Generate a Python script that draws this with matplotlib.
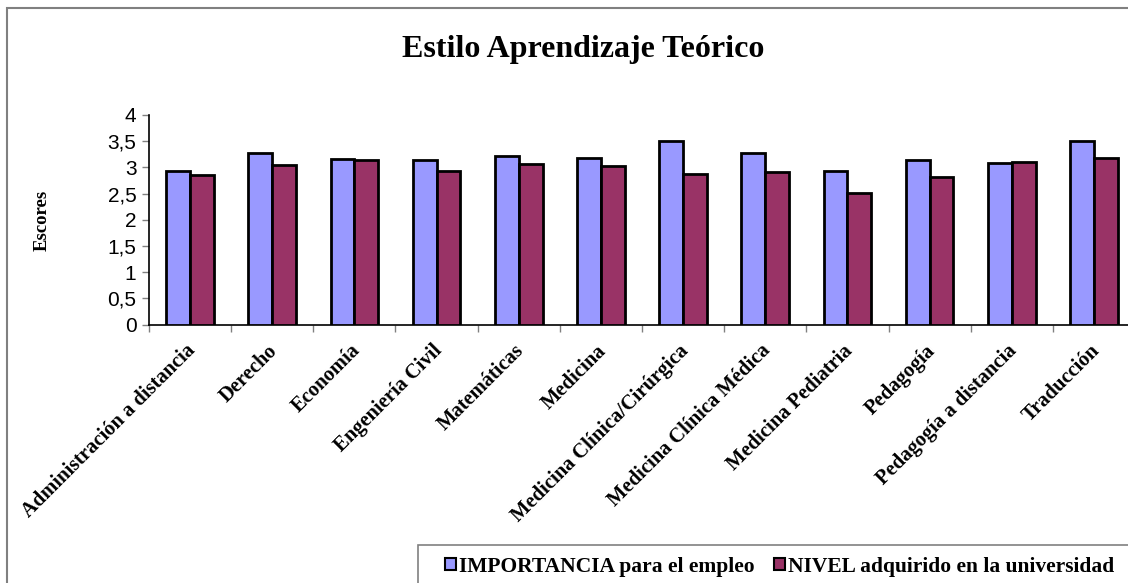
import matplotlib
matplotlib.use('Agg')
import matplotlib.pyplot as plt
import numpy as np
from matplotlib.patches import Rectangle
from matplotlib.ticker import FuncFormatter, FixedLocator

# Chart data
categories = ['Administración a distancia', 'Derecho', 'Economía', 'Engeniería Civil',
              'Matemáticas', 'Medicina', 'Medicina Clínica/Cirúrgica', 'Medicina Clínica Médica',
              'Medicina Pediatria', 'Pedagogía', 'Pedagogía a distancia', 'Traducción']
importancia = [2.94, 3.28, 3.17, 3.14, 3.22, 3.18, 3.51, 3.28, 2.93, 3.15, 3.09, 3.50]
nivel = [2.86, 3.05, 3.14, 2.93, 3.06, 3.02, 2.87, 2.91, 2.51, 2.82, 3.10, 3.18]
series_names = ['IMPORTANCIA para el empleo', 'NIVEL adquirido en la universidad']
series_colors = ['#9999FF', '#993366']

W, H = 1128, 583
fig = plt.figure(figsize=(W / 100, H / 100), dpi=100)
fig.patch.set_facecolor('white')

# outer chart border (partly cut off on right and bottom, as in the original)
fig.patches.append(Rectangle((7 / W, -0.1), 1.2, 1 - 8 / H + 0.1, transform=fig.transFigure,
                             fill=False, edgecolor='#808080', linewidth=1.5))

ax = fig.add_axes([149 / W, 1 - 324.7 / H, 986 / W, (324.7 - 115) / H])
x = np.arange(len(categories))
bw = 0.29
ax.bar(x - bw / 2, importancia, bw, color=series_colors[0], edgecolor='black', linewidth=2,
       label=series_names[0], zorder=3)
ax.bar(x + bw / 2, nivel, bw, color=series_colors[1], edgecolor='black', linewidth=2,
       label=series_names[1], zorder=3)

ax.set_xlim(-0.5, len(categories) - 0.5)
ax.set_ylim(0, 4)
ax.set_yticks(np.arange(0, 4.01, 0.5))
ax.yaxis.set_major_formatter(FuncFormatter(lambda v, p: f'{v:g}'.replace('.', ',')))
ax.tick_params(axis='y', direction='out', length=5, color='#808080', width=1,
               labelsize=15, pad=4)
for lab in ax.get_yticklabels():
    lab.set_fontfamily('Liberation Sans')

# gray ticks between categories, labels at the category centres
ax.xaxis.set_major_locator(FixedLocator(np.arange(len(categories) + 1) - 0.5))
ax.xaxis.set_major_formatter(FuncFormatter(lambda v, p: ''))
ax.tick_params(axis='x', direction='out', length=5, color='#808080', width=1)
for i, name in enumerate(categories):
    ax.text(i + 0.03, -0.44, name, rotation=45, ha='right', va='center', rotation_mode='anchor',
            transform=ax.transData, fontfamily='Liberation Serif', fontweight='bold',
            fontsize=14.8)

for side in ['top', 'right']:
    ax.spines[side].set_visible(False)
ax.spines['left'].set_linewidth(1.2)
ax.spines['bottom'].set_linewidth(1.2)

fig.text(42 / W, 1 - 220 / H, 'Escores', rotation=90, ha='center', va='center',
         fontfamily='Liberation Serif', fontweight='bold', fontsize=13.5)

fig.text(583 / W, 1 - 50 / H, 'Estilo Aprendizaje Teórico', ha='center', va='center',
         fontfamily='Liberation Serif', fontweight='bold', fontsize=23)

# legend box (runs off the right/bottom edge like the reference)
fig.patches.append(Rectangle((418 / W, -0.1), 1.0, 1 - 545 / H + 0.1, transform=fig.transFigure,
                             fill=False, edgecolor='#808080', linewidth=1.2))
leg = fig.legend(loc='center left', bbox_to_anchor=(434 / W, 1 - 567 / H), ncol=2,
                 frameon=False, handlelength=0.5, handleheight=0.5, handletextpad=0.15,
                 columnspacing=0.9, borderpad=0,
                 prop={'family': 'Liberation Serif', 'weight': 'bold', 'size': 15.5})
for h in leg.legend_handles:
    h.set_linewidth(1.5)

fig.savefig('out.png', dpi=100)
